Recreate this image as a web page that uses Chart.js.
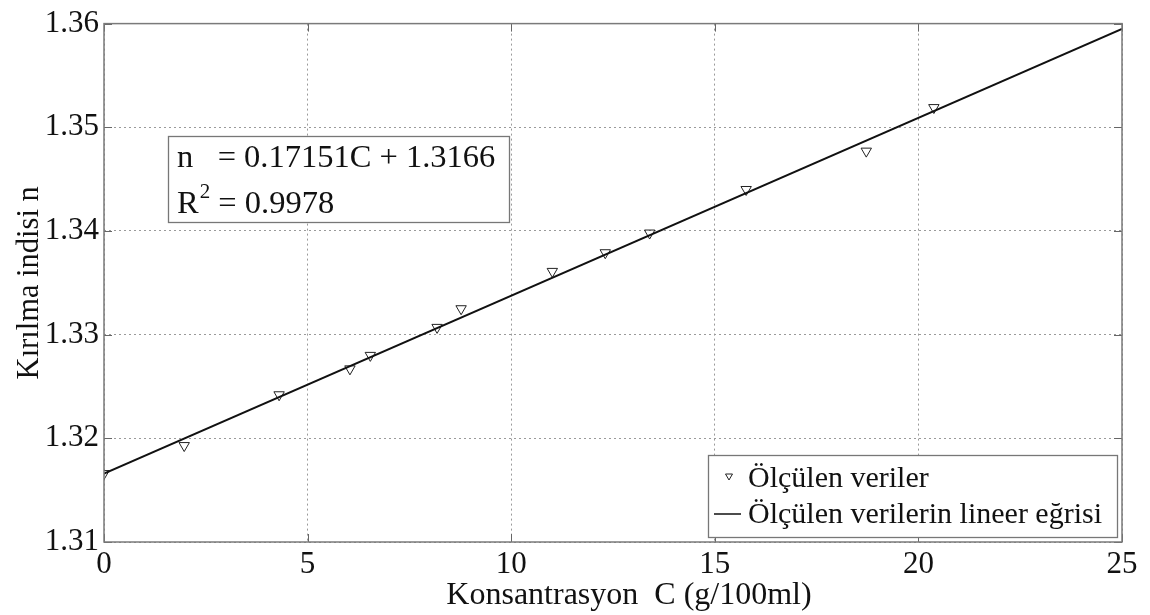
<!DOCTYPE html>
<html>
<head>
<meta charset="utf-8">
<script src="https://cdn.jsdelivr.net/npm/chart.js@4.4.1/dist/chart.umd.min.js"></script>
<style>
  html, body { margin: 0; padding: 0; background: #fff; }
  canvas { display: block; }
</style>
</head>
<body>
<canvas id="kirilmaChart" width="1150" height="615"></canvas>
<script>
// olculen veriler (konsantrasyon g/100ml, kirilma indisi)
const concentration = [0, 1.97, 4.30, 6.04, 6.54, 8.18, 8.77, 11.01, 12.31, 13.40, 15.77, 18.72, 20.38];
const refractiveIndex = [1.3166, 1.3193, 1.3242, 1.3267, 1.3280, 1.3307, 1.3325, 1.3361, 1.3379, 1.3398, 1.3440, 1.3477, 1.3519];

// lineer egri uc noktalari
const fitC = [0, 25];
const fitN = [1.3166, 1.35948];

const xTicks = [0, 5, 10, 15, 20, 25];
const yTicks = [1.31, 1.32, 1.33, 1.34, 1.35, 1.36];

const equationLine = 'n   = 0.17151C + 1.3166';
const r2Value = ' = 0.9978';

const SERIF = '"Liberation Serif", "Times New Roman", Tinos, serif';

// cerceve, ic tikler, denklem kutusu ve lejant
const extrasPlugin = {
    id: 'extras',
    afterDraw(chart) {
        const ctx = chart.ctx;
        const a = chart.chartArea;
        const xs = chart.scales.x, ys = chart.scales.y;
        ctx.save();

        // ic tikler
        ctx.strokeStyle = '#666';
        ctx.lineWidth = 1;
        ctx.beginPath();
        xTicks.forEach(v => {
            const px = Math.round(xs.getPixelForValue(v)) + 0.5;
            ctx.moveTo(px, a.bottom); ctx.lineTo(px, a.bottom - 8);
            ctx.moveTo(px, a.top); ctx.lineTo(px, a.top + 8);
        });
        yTicks.forEach(v => {
            const py = Math.round(ys.getPixelForValue(v)) + 0.5;
            ctx.moveTo(a.left, py); ctx.lineTo(a.left + 8, py);
            ctx.moveTo(a.right, py); ctx.lineTo(a.right - 8, py);
        });
        ctx.stroke();

        // cerceve
        ctx.strokeStyle = '#7a7a7a';
        ctx.lineWidth = 1.5;
        ctx.strokeRect(a.left, a.top, a.right - a.left, a.bottom - a.top);

        // denklem kutusu
        ctx.fillStyle = '#fff';
        ctx.fillRect(168, 136, 341, 86);
        ctx.strokeStyle = '#777';
        ctx.lineWidth = 1.3;
        ctx.strokeRect(168.5, 136.5, 341, 86);
        ctx.fillStyle = '#111';
        ctx.textBaseline = 'alphabetic';
        ctx.textAlign = 'left';
        ctx.font = '32.5px ' + SERIF;
        ctx.fillText(equationLine, 177, 167);
        ctx.fillText('R', 177, 213);
        const rw = ctx.measureText('R').width;
        ctx.font = '21px ' + SERIF;
        ctx.fillText('2', 177 + rw + 1, 198);
        const sw = ctx.measureText('2').width;
        ctx.font = '32.5px ' + SERIF;
        ctx.fillText(r2Value, 177 + rw + sw + 1, 213);

        // lejant
        ctx.fillStyle = '#fff';
        ctx.fillRect(708, 455, 409, 82);
        ctx.strokeStyle = '#777';
        ctx.strokeRect(708.5, 455.5, 409, 82);
        const ds0 = chart.data.datasets[0], ds1 = chart.data.datasets[1];
        // ucgen isaret
        ctx.strokeStyle = ds0.borderColor;
        ctx.lineWidth = 1;
        ctx.beginPath();
        ctx.moveTo(725.5, 474); ctx.lineTo(732.5, 474); ctx.lineTo(729, 480);
        ctx.closePath();
        ctx.stroke();
        // cizgi
        ctx.strokeStyle = ds1.borderColor;
        ctx.lineWidth = 1.5;
        ctx.beginPath();
        ctx.moveTo(714, 514); ctx.lineTo(741, 514);
        ctx.stroke();
        ctx.fillStyle = '#111';
        ctx.font = '30px ' + SERIF;
        ctx.fillText(ds0.label, 748, 487);
        ctx.fillText(ds1.label, 748, 523);

        ctx.restore();
    }
};

function drawChart() {
    Chart.defaults.font.family = SERIF;
    Chart.defaults.color = '#111';

    const ctx = document.getElementById('kirilmaChart').getContext('2d');
    new Chart(ctx, {
        type: 'scatter',
        data: {
            datasets: [{
                label: 'Ölçülen veriler',
                data: concentration.map((c, i) => ({ x: c, y: refractiveIndex[i] })),
                pointStyle: 'triangle',
                rotation: 180,
                pointRadius: 6,
                pointBorderWidth: 1,
                backgroundColor: 'rgba(255,255,255,0)',
                borderColor: '#222',
                showLine: false,
                order: 2
            }, {
                label: 'Ölçülen verilerin lineer eğrisi',
                data: fitC.map((c, i) => ({ x: c, y: fitN[i] })),
                showLine: true,
                pointRadius: 0,
                borderColor: '#111',
                borderWidth: 2,
                order: 1
            }]
        },
        options: {
            responsive: false,
            animation: false,
            layout: {
                padding: { top: 20, right: 28 }
            },
            plugins: {
                legend: { display: false },
                tooltip: { enabled: false }
            },
            scales: {
                x: {
                    type: 'linear',
                    min: 0,
                    max: 25,
                    afterBuildTicks: scale => { scale.ticks = xTicks.map(v => ({ value: v })); },
                    afterFit: scale => { scale.height = 73; },
                    border: { display: false, dash: [2, 3] },
                    grid: {
                        color: '#9a9a9a',
                        lineWidth: 1,
                        drawTicks: false
                    },
                    ticks: {
                        padding: 4,
                        font: { size: 31, family: SERIF },
                        color: '#111'
                    },
                    title: {
                        display: true,
                        text: '    Konsantrasyon  C (g/100ml)',
                        font: { size: 32, family: SERIF },
                        color: '#111',
                        padding: { top: 0, bottom: 0 }
                    }
                },
                y: {
                    type: 'linear',
                    min: 1.31,
                    max: 1.36,
                    afterBuildTicks: scale => { scale.ticks = yTicks.map(v => ({ value: v })); },
                    afterFit: scale => { scale.width = 104; },
                    border: { display: false, dash: [2, 3] },
                    grid: {
                        color: '#9a9a9a',
                        lineWidth: 1,
                        drawTicks: false
                    },
                    ticks: {
                        padding: 5,
                        font: { size: 31, family: SERIF },
                        color: '#111',
                        callback: v => v.toFixed(2)
                    },
                    title: {
                        display: true,
                        text: 'Kırılma indisi n',
                        font: { size: 30.5, family: SERIF },
                        color: '#111',
                        padding: { top: 12, bottom: 0 }
                    }
                }
            }
        },
        plugins: [extrasPlugin]
    });
}

document.fonts.load('31px "Liberation Serif"').then(drawChart, drawChart);
</script>
</body>
</html>
